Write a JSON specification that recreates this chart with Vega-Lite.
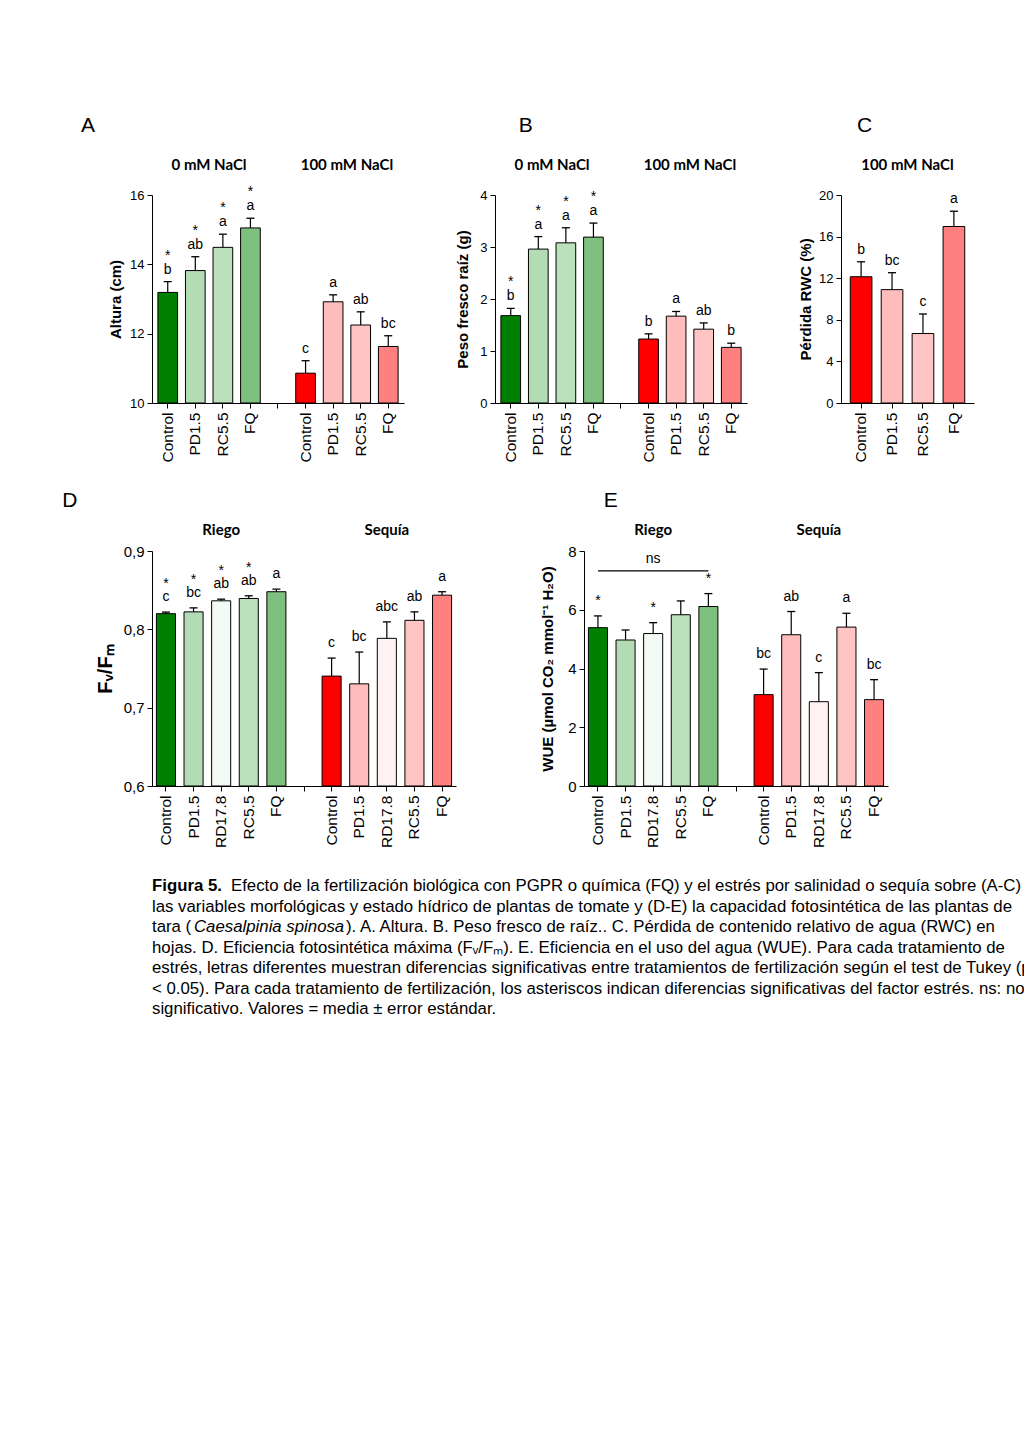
{
"$schema":"https://vega.github.io/schema/vega-lite/v6.json",
"background":"white",
"padding":{"left":62,"top":114,"right":10,"bottom":10},
"config":{
 "font":"Liberation Sans",
 "view":{"stroke":null},
 "title":{"fontSize":21,"fontWeight":"normal","anchor":"start","color":"#000"},
 "axis":{"domainColor":"#000","tickColor":"#000","labelColor":"#000","titleColor":"#000","grid":false,"tickSize":5,"titleFontWeight":"bold"},
 "axisX":{"labelAngle":-90,"labelFontSize":15.5,"labelPadding":4},
 "axisY":{"labelFontSize":13,"labelPadding":3,"titleFontSize":15}
},
"align":"none",
"spacing":28,
"vconcat":[
 {"spacing":51,"hconcat":[
  {"width":252,"height":208,
   "title":{"text":"\u00a0\u00a0\u00a0\u00a0\u00a0\u00a0\u00a0\u00a0\u00a0\u00a0\u00a0\u00a0\u00a0\u00a0A","dx":-27.5,"offset":22},
   "data":{"values":[
    {"cat":"0|Control","t":"Control","g":"g","v":13.19,"hi":13.5,"l":"b","s":"*"},
    {"cat":"0|PD1.5","t":"PD1.5","g":"g","v":13.82,"hi":14.22,"l":"ab","s":"*"},
    {"cat":"0|RC5.5","t":"RC5.5","g":"g","v":14.49,"hi":14.87,"l":"a","s":"*"},
    {"cat":"0|FQ","t":"FQ","g":"g","v":15.05,"hi":15.33,"l":"a","s":"*"},
    {"cat":"100|Control","t":"Control","g":"r","v":10.86,"hi":11.22,"l":"c","s":""},
    {"cat":"100|PD1.5","t":"PD1.5","g":"r","v":12.92,"hi":13.12,"l":"a","s":""},
    {"cat":"100|RC5.5","t":"RC5.5","g":"r","v":12.25,"hi":12.63,"l":"ab","s":""},
    {"cat":"100|FQ","t":"FQ","g":"r","v":11.63,"hi":11.94,"l":"bc","s":""}]},
   "encoding":{"x":{"field":"cat","type":"nominal","sort":null,"title":null,"scale":{"domain":["0|Control","0|PD1.5","0|RC5.5","0|FQ","gap","100|Control","100|PD1.5","100|RC5.5","100|FQ"],"paddingInner":0.286,"paddingOuter":0.214},"axis":{"labelExpr":"indexof(datum.value,'|')>0 ? split(datum.value,'|')[1] : ''"}}},
   "layer":[
    {"transform":[{"filter":"datum.g=='g'"}],"mark":{"type":"bar","stroke":"#000","strokeWidth":1},"encoding":{"y":{"field":"v","type":"quantitative","scale":{"domain":[10,16],"zero":false,"nice":false},"axis":{"values":[10,12,14,16],"format":"d","title":"Altura (cm)","titlePadding":6}},"y2":{"datum":10},"color":{"field":"t","type":"nominal","scale":{"domain":["Control","PD1.5","RD17.8","RC5.5","FQ"],"range":["#008000","#b4dcb4","#f4faf4","#bcdfbc","#7fbf7f"]},"legend":null}}},
    {"transform":[{"filter":"datum.g=='r'"}],"mark":{"type":"bar","stroke":"#000","strokeWidth":1},"encoding":{"y":{"field":"v","type":"quantitative"},"y2":{"datum":10},"fill":{"field":"t","type":"nominal","scale":{"domain":["Control","PD1.5","RD17.8","RC5.5","FQ"],"range":["#ff0000","#ffbcbc","#fff2f2","#ffc4c4","#ff8080"]},"legend":null}}},
    {"mark":{"type":"rule","color":"#000","strokeWidth":1.2},"encoding":{"y":{"field":"v","type":"quantitative"},"y2":{"field":"hi"}}},
    {"mark":{"type":"tick","color":"#000","size":8,"thickness":1.3,"opacity":1},"encoding":{"y":{"field":"hi","type":"quantitative"}}},
    {"mark":{"type":"text","baseline":"bottom","dy":-5,"fontSize":14,"color":"#000"},"encoding":{"y":{"field":"hi","type":"quantitative"},"text":{"field":"l","type":"nominal"}}},
    {"mark":{"type":"text","baseline":"bottom","dy":-19,"fontSize":14,"color":"#000"},"encoding":{"y":{"field":"hi","type":"quantitative"},"text":{"field":"s","type":"nominal"}}},
    {"data":{"values":[{"cat":"0|PD1.5","txt":"0 mM NaCl"},{"cat":"100|PD1.5","txt":"100 mM NaCl"}]},"mark":{"type":"text","font":"Lato","fontWeight":"bold","fontSize":15,"color":"#000"},"encoding":{"x":{"field":"cat","type":"nominal","bandPosition":1.2,"title":null},"y":{"datum":16.865,"type":"quantitative"},"text":{"field":"txt","type":"nominal"}}}
   ]},
  {"width":252,"height":208,
   "title":{"text":"B","dx":63,"offset":22},
   "data":{"values":[
    {"cat":"0|Control","t":"Control","g":"g","v":1.68,"hi":1.82,"l":"b","s":"*"},
    {"cat":"0|PD1.5","t":"PD1.5","g":"g","v":2.96,"hi":3.2,"l":"a","s":"*"},
    {"cat":"0|RC5.5","t":"RC5.5","g":"g","v":3.08,"hi":3.37,"l":"a","s":"*"},
    {"cat":"0|FQ","t":"FQ","g":"g","v":3.19,"hi":3.46,"l":"a","s":"*"},
    {"cat":"100|Control","t":"Control","g":"r","v":1.23,"hi":1.33,"l":"b","s":""},
    {"cat":"100|PD1.5","t":"PD1.5","g":"r","v":1.67,"hi":1.76,"l":"a","s":""},
    {"cat":"100|RC5.5","t":"RC5.5","g":"r","v":1.42,"hi":1.54,"l":"ab","s":""},
    {"cat":"100|FQ","t":"FQ","g":"r","v":1.07,"hi":1.15,"l":"b","s":""}]},
   "encoding":{"x":{"field":"cat","type":"nominal","sort":null,"title":null,"scale":{"domain":["0|Control","0|PD1.5","0|RC5.5","0|FQ","gap","100|Control","100|PD1.5","100|RC5.5","100|FQ"],"paddingInner":0.286,"paddingOuter":0.214},"axis":{"labelExpr":"indexof(datum.value,'|')>0 ? split(datum.value,'|')[1] : ''"}}},
   "layer":[
    {"transform":[{"filter":"datum.g=='g'"}],"mark":{"type":"bar","stroke":"#000","strokeWidth":1},"encoding":{"y":{"field":"v","type":"quantitative","scale":{"domain":[0,4],"zero":false,"nice":false},"axis":{"values":[0,1,2,3,4],"format":"d","title":"Peso fresco raíz (g)","titlePadding":9}},"y2":{"datum":0},"color":{"field":"t","type":"nominal","scale":{"domain":["Control","PD1.5","RD17.8","RC5.5","FQ"],"range":["#008000","#b4dcb4","#f4faf4","#bcdfbc","#7fbf7f"]},"legend":null}}},
    {"transform":[{"filter":"datum.g=='r'"}],"mark":{"type":"bar","stroke":"#000","strokeWidth":1},"encoding":{"y":{"field":"v","type":"quantitative"},"y2":{"datum":0},"fill":{"field":"t","type":"nominal","scale":{"domain":["Control","PD1.5","RD17.8","RC5.5","FQ"],"range":["#ff0000","#ffbcbc","#fff2f2","#ffc4c4","#ff8080"]},"legend":null}}},
    {"mark":{"type":"rule","color":"#000","strokeWidth":1.2},"encoding":{"y":{"field":"v","type":"quantitative"},"y2":{"field":"hi"}}},
    {"mark":{"type":"tick","color":"#000","size":8,"thickness":1.3,"opacity":1},"encoding":{"y":{"field":"hi","type":"quantitative"}}},
    {"mark":{"type":"text","baseline":"bottom","dy":-5,"fontSize":14,"color":"#000"},"encoding":{"y":{"field":"hi","type":"quantitative"},"text":{"field":"l","type":"nominal"}}},
    {"mark":{"type":"text","baseline":"bottom","dy":-19,"fontSize":14,"color":"#000"},"encoding":{"y":{"field":"hi","type":"quantitative"},"text":{"field":"s","type":"nominal"}}},
    {"data":{"values":[{"cat":"0|PD1.5","txt":"0 mM NaCl"},{"cat":"100|PD1.5","txt":"100 mM NaCl"}]},"mark":{"type":"text","font":"Lato","fontWeight":"bold","fontSize":15,"color":"#000"},"encoding":{"x":{"field":"cat","type":"nominal","bandPosition":1.2,"title":null},"y":{"datum":4.577,"type":"quantitative"},"text":{"field":"txt","type":"nominal"}}}
   ]},
  {"width":133,"height":208,
   "title":{"text":"C","dx":58.5,"offset":22},
   "data":{"values":[
    {"cat":"100|Control","t":"Control","g":"r","v":12.14,"hi":13.58,"l":"b"},
    {"cat":"100|PD1.5","t":"PD1.5","g":"r","v":10.9,"hi":12.53,"l":"bc"},
    {"cat":"100|RC5.5","t":"RC5.5","g":"r","v":6.68,"hi":8.56,"l":"c"},
    {"cat":"100|FQ","t":"FQ","g":"r","v":16.97,"hi":18.44,"l":"a"}]},
   "encoding":{"x":{"field":"cat","type":"nominal","sort":null,"title":null,"scale":{"domain":["100|Control","100|PD1.5","100|RC5.5","100|FQ"],"paddingInner":0.3,"paddingOuter":0.3},"axis":{"labelExpr":"indexof(datum.value,'|')>0 ? split(datum.value,'|')[1] : ''"}}},
   "layer":[
    {"mark":{"type":"bar","stroke":"#000","strokeWidth":1},"encoding":{"y":{"field":"v","type":"quantitative","scale":{"domain":[0,20],"zero":false,"nice":false},"axis":{"values":[0,4,8,12,16,20],"format":"d","title":"Pérdida RWC (%)","titlePadding":5}},"y2":{"datum":0},"fill":{"field":"t","type":"nominal","scale":{"domain":["Control","PD1.5","RD17.8","RC5.5","FQ"],"range":["#ff0000","#ffbcbc","#fff2f2","#ffc4c4","#ff8080"]},"legend":null}}},
    {"mark":{"type":"rule","color":"#000","strokeWidth":1.2},"encoding":{"y":{"field":"v","type":"quantitative"},"y2":{"field":"hi"}}},
    {"mark":{"type":"tick","color":"#000","size":8,"thickness":1.3,"opacity":1},"encoding":{"y":{"field":"hi","type":"quantitative"}}},
    {"mark":{"type":"text","baseline":"bottom","dy":-5,"fontSize":14,"color":"#000"},"encoding":{"y":{"field":"hi","type":"quantitative"},"text":{"field":"l","type":"nominal"}}},
    {"data":{"values":[{"cat":"100|PD1.5","txt":"100 mM NaCl"}]},"mark":{"type":"text","font":"Lato","fontWeight":"bold","fontSize":15,"color":"#000"},"encoding":{"x":{"field":"cat","type":"nominal","bandPosition":1.21,"title":null},"y":{"datum":22.876,"type":"quantitative"},"text":{"field":"txt","type":"nominal"}}}
   ]}
 ]},
 {"spacing":84,"hconcat":[
  {"width":304,"height":235,
   "title":{"text":"\u00a0\u00a0\u00a0\u00a0\u00a0\u00a0\u00a0\u00a0\u00a0\u00a0\u00a0\u00a0\u00a0\u00a0\u00a0D","dx":-33,"offset":12},
   "data":{"values":[
    {"cat":"R|Control","t":"Control","g":"g","v":0.82,"hi":0.822,"l":"c","s":"*"},
    {"cat":"R|PD1.5","t":"PD1.5","g":"g","v":0.8223,"hi":0.8274,"l":"bc","s":"*"},
    {"cat":"R|RD17.8","t":"RD17.8","g":"g","v":0.8364,"hi":0.8385,"l":"ab","s":"*"},
    {"cat":"R|RC5.5","t":"RC5.5","g":"g","v":0.8394,"hi":0.8428,"l":"ab","s":"*"},
    {"cat":"R|FQ","t":"FQ","g":"g","v":0.848,"hi":0.8513,"l":"a","s":""},
    {"cat":"S|Control","t":"Control","g":"r","v":0.7403,"hi":0.7633,"l":"c","s":""},
    {"cat":"S|PD1.5","t":"PD1.5","g":"r","v":0.7304,"hi":0.771,"l":"bc","s":""},
    {"cat":"S|RD17.8","t":"RD17.8","g":"r","v":0.7885,"hi":0.8095,"l":"abc","s":""},
    {"cat":"S|RC5.5","t":"RC5.5","g":"r","v":0.8115,"hi":0.8223,"l":"ab","s":""},
    {"cat":"S|FQ","t":"FQ","g":"r","v":0.8436,"hi":0.848,"l":"a","s":""}]},
   "encoding":{"x":{"field":"cat","type":"nominal","sort":null,"title":null,"scale":{"domain":["R|Control","R|PD1.5","R|RD17.8","R|RC5.5","R|FQ","gap","S|Control","S|PD1.5","S|RD17.8","S|RC5.5","S|FQ"],"paddingInner":0.31,"paddingOuter":0.16},"axis":{"labelExpr":"indexof(datum.value,'|')>0 ? split(datum.value,'|')[1] : ''"}}},
   "layer":[
    {"transform":[{"filter":"datum.g=='g'"}],"mark":{"type":"bar","stroke":"#000","strokeWidth":1},"encoding":{"y":{"field":"v","type":"quantitative","scale":{"domain":[0.6,0.9],"zero":false,"nice":false},"axis":{"values":[0.6,0.7,0.8,0.9],"labelExpr":"replace(format(datum.value,'.1f'),'.',',')","labelFontSize":15,"title":"Fᵥ/Fₘ","titleFontSize":20,"titlePadding":8}},"y2":{"datum":0.6},"color":{"field":"t","type":"nominal","scale":{"domain":["Control","PD1.5","RD17.8","RC5.5","FQ"],"range":["#008000","#b4dcb4","#f4faf4","#bcdfbc","#7fbf7f"]},"legend":null}}},
    {"transform":[{"filter":"datum.g=='r'"}],"mark":{"type":"bar","stroke":"#000","strokeWidth":1},"encoding":{"y":{"field":"v","type":"quantitative"},"y2":{"datum":0.6},"fill":{"field":"t","type":"nominal","scale":{"domain":["Control","PD1.5","RD17.8","RC5.5","FQ"],"range":["#ff0000","#ffbcbc","#fff2f2","#ffc4c4","#ff8080"]},"legend":null}}},
    {"mark":{"type":"rule","color":"#000","strokeWidth":1.2},"encoding":{"y":{"field":"v","type":"quantitative"},"y2":{"field":"hi"}}},
    {"mark":{"type":"tick","color":"#000","size":8,"thickness":1.3,"opacity":1},"encoding":{"y":{"field":"hi","type":"quantitative"}}},
    {"mark":{"type":"text","baseline":"bottom","dy":-8,"fontSize":14,"color":"#000"},"encoding":{"y":{"field":"hi","type":"quantitative"},"text":{"field":"l","type":"nominal"}}},
    {"mark":{"type":"text","baseline":"bottom","dy":-21,"fontSize":14,"color":"#000"},"encoding":{"y":{"field":"hi","type":"quantitative"},"text":{"field":"s","type":"nominal"}}},
    {"data":{"values":[{"cat":"R|RD17.8","txt":"Riego"},{"cat":"S|RD17.8","txt":"Sequía"}]},"mark":{"type":"text","font":"Lato","fontWeight":"bold","fontSize":15,"color":"#000"},"encoding":{"x":{"field":"cat","type":"nominal","title":null},"y":{"datum":0.9265,"type":"quantitative"},"text":{"field":"txt","type":"nominal"}}}
   ]},
  {"width":304,"height":235,
   "title":{"text":"E","dx":63,"offset":12},
   "data":{"values":[
    {"cat":"R|Control","t":"Control","g":"g","v":5.39,"hi":5.79,"l":"*"},
    {"cat":"R|PD1.5","t":"PD1.5","g":"g","v":4.97,"hi":5.31,"l":""},
    {"cat":"R|RD17.8","t":"RD17.8","g":"g","v":5.19,"hi":5.56,"l":"*"},
    {"cat":"R|RC5.5","t":"RC5.5","g":"g","v":5.83,"hi":6.3,"l":""},
    {"cat":"R|FQ","t":"FQ","g":"g","v":6.11,"hi":6.55,"l":"*"},
    {"cat":"S|Control","t":"Control","g":"r","v":3.11,"hi":3.98,"l":"bc"},
    {"cat":"S|PD1.5","t":"PD1.5","g":"r","v":5.15,"hi":5.94,"l":"ab"},
    {"cat":"S|RD17.8","t":"RD17.8","g":"r","v":2.87,"hi":3.86,"l":"c"},
    {"cat":"S|RC5.5","t":"RC5.5","g":"r","v":5.41,"hi":5.88,"l":"a"},
    {"cat":"S|FQ","t":"FQ","g":"r","v":2.94,"hi":3.62,"l":"bc"}]},
   "encoding":{"x":{"field":"cat","type":"nominal","sort":null,"title":null,"scale":{"domain":["R|Control","R|PD1.5","R|RD17.8","R|RC5.5","R|FQ","gap","S|Control","S|PD1.5","S|RD17.8","S|RC5.5","S|FQ"],"paddingInner":0.31,"paddingOuter":0.16},"axis":{"labelExpr":"indexof(datum.value,'|')>0 ? split(datum.value,'|')[1] : ''"}}},
   "layer":[
    {"transform":[{"filter":"datum.g=='g'"}],"mark":{"type":"bar","stroke":"#000","strokeWidth":1},"encoding":{"y":{"field":"v","type":"quantitative","scale":{"domain":[0,8],"zero":false,"nice":false},"axis":{"values":[0,2,4,6,8],"format":"d","labelFontSize":15,"title":"WUE (µmol CO₂ mmol⁻¹ H₂O)","titlePadding":12}},"y2":{"datum":0},"color":{"field":"t","type":"nominal","scale":{"domain":["Control","PD1.5","RD17.8","RC5.5","FQ"],"range":["#008000","#b4dcb4","#f4faf4","#bcdfbc","#7fbf7f"]},"legend":null}}},
    {"transform":[{"filter":"datum.g=='r'"}],"mark":{"type":"bar","stroke":"#000","strokeWidth":1},"encoding":{"y":{"field":"v","type":"quantitative"},"y2":{"datum":0},"fill":{"field":"t","type":"nominal","scale":{"domain":["Control","PD1.5","RD17.8","RC5.5","FQ"],"range":["#ff0000","#ffbcbc","#fff2f2","#ffc4c4","#ff8080"]},"legend":null}}},
    {"mark":{"type":"rule","color":"#000","strokeWidth":1.2},"encoding":{"y":{"field":"v","type":"quantitative"},"y2":{"field":"hi"}}},
    {"mark":{"type":"tick","color":"#000","size":8,"thickness":1.3,"opacity":1},"encoding":{"y":{"field":"hi","type":"quantitative"}}},
    {"mark":{"type":"text","baseline":"bottom","dy":-8,"fontSize":14,"color":"#000"},"encoding":{"y":{"field":"hi","type":"quantitative"},"text":{"field":"l","type":"nominal"}}},
    {"data":{"values":[{"cat":"R|RD17.8","txt":"Riego"},{"cat":"S|RD17.8","txt":"Sequía"}]},"mark":{"type":"text","font":"Lato","fontWeight":"bold","fontSize":15,"color":"#000"},"encoding":{"x":{"field":"cat","type":"nominal","title":null},"y":{"datum":8.705,"type":"quantitative"},"text":{"field":"txt","type":"nominal"}}},
    {"data":{"values":[{"cat":"R|Control","cat2":"R|FQ"}]},"mark":{"type":"rule","color":"#000","strokeWidth":1.3},"encoding":{"x":{"field":"cat","type":"nominal","title":null},"x2":{"field":"cat2"},"y":{"datum":7.32,"type":"quantitative"}}},
    {"data":{"values":[{"cat":"R|RD17.8","txt":"ns"}]},"mark":{"type":"text","fontSize":14,"color":"#000"},"encoding":{"x":{"field":"cat","type":"nominal","title":null},"y":{"datum":7.72,"type":"quantitative"},"text":{"field":"txt","type":"nominal"}}}
   ]}
 ]},
 {"width":901,"height":143.5,
  "data":{"values":[
   {"ln":1,"k":"b","txt":"Figura 5."},
   {"ln":1,"k":"a","txt":"Efecto de la fertilización biológica con PGPR o química (FQ) y el estrés por salinidad o sequía sobre (A-C)"},
   {"ln":2,"k":"n","txt":"las variables morfológicas y estado hídrico de plantas de tomate y (D-E) la capacidad fotosintética de las plantas de"},
   {"ln":3,"k":"n","txt":"tara ("},
   {"ln":3,"k":"i","txt":"Caesalpinia spinosa"},
   {"ln":3,"k":"c","txt":"). A. Altura. B. Peso fresco de raíz.. C. Pérdida de contenido relativo de agua (RWC) en"},
   {"ln":4,"k":"n","txt":"hojas. D. Eficiencia fotosintética máxima (Fᵥ/Fₘ). E. Eficiencia en el uso del agua (WUE). Para cada tratamiento de"},
   {"ln":5,"k":"n","txt":"estrés, letras diferentes muestran diferencias significativas entre tratamientos de fertilización según el test de Tukey (p"},
   {"ln":6,"k":"n","txt":"< 0.05). Para cada tratamiento de fertilización, los asteriscos indican diferencias significativas del factor estrés. ns: no"},
   {"ln":7,"k":"n","txt":"significativo. Valores = media ± error estándar."}]},
  "encoding":{
   "y":{"field":"ln","type":"ordinal","scale":{"domain":[1,2,3,4,5,6,7],"paddingInner":0,"paddingOuter":0},"axis":null},
   "text":{"field":"txt","type":"nominal"}},
  "layer":[
   {"transform":[{"filter":"datum.k=='n'"}],"mark":{"type":"text","align":"left","baseline":"middle","fontSize":16.8,"color":"#000","x":0}},
   {"transform":[{"filter":"datum.k=='b'"}],"mark":{"type":"text","align":"left","baseline":"middle","fontSize":16.8,"fontWeight":"bold","color":"#000","x":0}},
   {"transform":[{"filter":"datum.k=='a'"}],"mark":{"type":"text","align":"left","baseline":"middle","fontSize":16.8,"dx":79,"color":"#000","x":0}},
   {"transform":[{"filter":"datum.k=='i'"}],"mark":{"type":"text","align":"left","baseline":"middle","fontSize":16.8,"fontStyle":"italic","dx":42,"color":"#000","x":0}},
   {"transform":[{"filter":"datum.k=='c'"}],"mark":{"type":"text","align":"left","baseline":"middle","fontSize":16.8,"dx":194,"color":"#000","x":0}}
  ]}
]
}
